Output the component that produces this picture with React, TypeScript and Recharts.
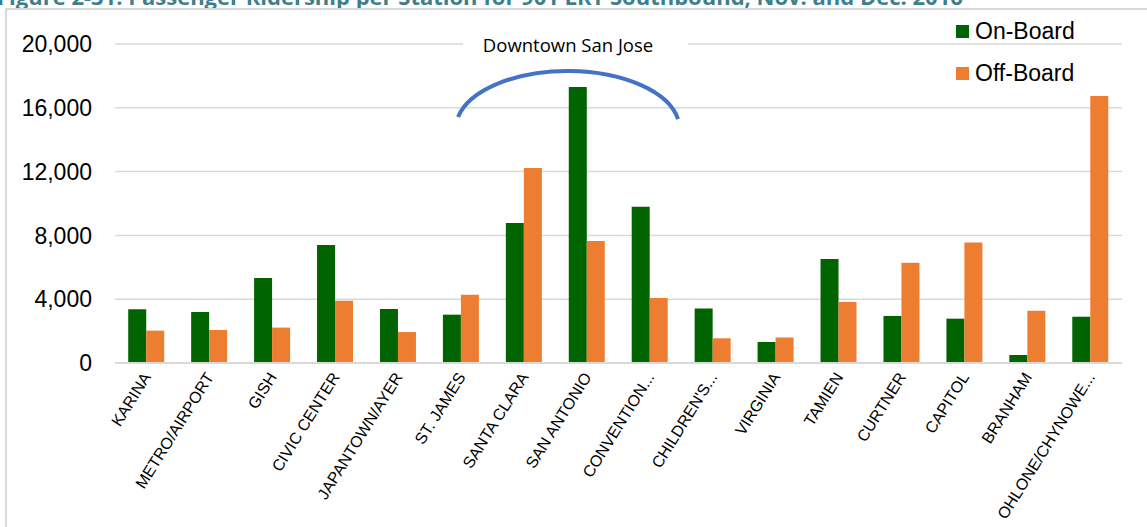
import React from "react";
import {
  BarChart,
  Bar,
  XAxis,
  YAxis,
  CartesianGrid,
  Legend,
  ReferenceDot,
} from "recharts";

const stations = [
  "KARINA",
  "METRO/AIRPORT",
  "GISH",
  "CIVIC CENTER",
  "JAPANTOWN/AYER",
  "ST. JAMES",
  "SANTA CLARA",
  "SAN ANTONIO",
  "CONVENTION...",
  "CHILDREN'S...",
  "VIRGINIA",
  "TAMIEN",
  "CURTNER",
  "CAPITOL",
  "BRANHAM",
  "OHLONE/CHYNOWE...",
];

const onBoard = [
  3370, 3200, 5330, 7400, 3390, 3030, 8780, 17300, 9800, 3420, 1320, 6520,
  2950, 2780, 500, 2900,
];

const offBoard = [
  2030, 2070, 2220, 3910, 1940, 4280, 12230, 7650, 4080, 1550, 1600, 3830,
  6290, 7550, 3280, 16740,
];

const yTicks = [0, 4000, 8000, 12000, 16000, 20000];

const seriesNames = { onBoard: "On-Board", offBoard: "Off-Board" };
const GREEN = "#006400";
const ORANGE = "#ED7D31";
const TITLE =
  "Figure 2-31: Passenger Ridership per Station for 901 LRT Southbound, Nov. and Dec. 2016";
const ANNOTATION = "Downtown San Jose";

const data = stations.map((name, i) => ({
  name,
  onBoard: onBoard[i],
  offBoard: offBoard[i],
}));

const StationTick = ({ x, y, payload }: any) => (
  <text
    x={x + 5}
    y={y + 6}
    textAnchor="end"
    transform={`rotate(-58, ${x + 5}, ${y + 6})`}
    fontSize={16}
    fontFamily="Liberation Sans, Arial, sans-serif"
    fill="#000"
  >
    {payload.value}
  </text>
);

// arc + label drawn relative to the SAN ANTONIO category
const DowntownArc = ({ cx, cy }: any) => {
  const mx = cx - 19;
  return (
    <g>
      <rect x={mx - 105} y={cy - 37} width={225} height={22} fill="#fff" />
      <text
        x={mx}
        y={cy - 19}
        textAnchor="middle"
        fontSize={18.5}
        fontFamily="Open Sans, sans-serif"
        fill="#000"
      >
        {ANNOTATION}
      </text>
      <path
        d={`M ${mx - 110} ${cy + 46} A 112 58 0 0 1 ${mx + 110} ${cy + 48}`}
        fill="none"
        stroke="#4472C4"
        strokeWidth={4}
      />
    </g>
  );
};

const renderLegend = () => (
  <div style={{ fontFamily: "Liberation Sans, Arial, sans-serif" }}>
    {[
      { name: seriesNames.onBoard, color: GREEN },
      { name: seriesNames.offBoard, color: ORANGE },
    ].map((item) => (
      <div
        key={item.name}
        style={{ display: "flex", alignItems: "center", height: 42 }}
      >
        <span
          style={{
            width: 13,
            height: 13,
            background: item.color,
            marginRight: 6,
            display: "inline-block",
          }}
        />
        <span style={{ fontSize: 23, color: "#000" }}>{item.name}</span>
      </div>
    ))}
  </div>
);

export default function App() {
  return (
    <div
      style={{
        position: "absolute",
        left: 0,
        top: 0,
        width: 1147,
        height: 527,
        overflow: "hidden",
        background: "#fff",
      }}
    >
      <svg
        width={1147}
        height={12}
        style={{ position: "absolute", left: 0, top: 0 }}
      >
        <text
          x={-3}
          y={5}
          fontSize={22}
          fontWeight="bold"
          fontFamily="Open Sans, sans-serif"
          fill="#3f7f8b"
        >
          {TITLE}
        </text>
      </svg>
      <div
        style={{
          position: "absolute",
          left: 5,
          top: 8,
          width: 1300,
          height: 700,
          border: "2px solid #d9d9d9",
        }}
      />
      <div style={{ position: "absolute", left: 0, top: 0 }}>
        <BarChart
          width={1147}
          height={527}
          data={data}
          margin={{ top: 44, right: 25, bottom: 0, left: 0 }}
          barCategoryGap="21%"
          barGap={0}
        >
          <CartesianGrid vertical={false} stroke="#d9d9d9" strokeWidth={1.5} />
          <XAxis
            dataKey="name"
            height={164}
            interval={0}
            tickLine={false}
            axisLine={{ stroke: "#d9d9d9", strokeWidth: 2 }}
            tick={<StationTick />}
          />
          <YAxis
            width={115}
            domain={[0, 20000]}
            ticks={yTicks}
            axisLine={false}
            tickLine={false}
            tickMargin={17}
            tickFormatter={(v: number) => v.toLocaleString("en-US")}
            tick={{
              fontSize: 23,
              fontFamily: "Liberation Sans, Arial, sans-serif",
              fill: "#000",
            }}
          />
          <Legend
            layout="horizontal"
            align="center"
            verticalAlign="middle"
            content={renderLegend}
            wrapperStyle={{ top: 10, left: 956, width: 190 }}
          />
          <Bar
            dataKey="onBoard"
            name={seriesNames.onBoard}
            fill={GREEN}
            isAnimationActive={false}
          />
          <Bar
            dataKey="offBoard"
            name={seriesNames.offBoard}
            fill={ORANGE}
            isAnimationActive={false}
          />
          <ReferenceDot
            x={stations[7]}
            y={18300}
            shape={<DowntownArc />}
            ifOverflow="visible"
          />
        </BarChart>
      </div>
    </div>
  );
}
